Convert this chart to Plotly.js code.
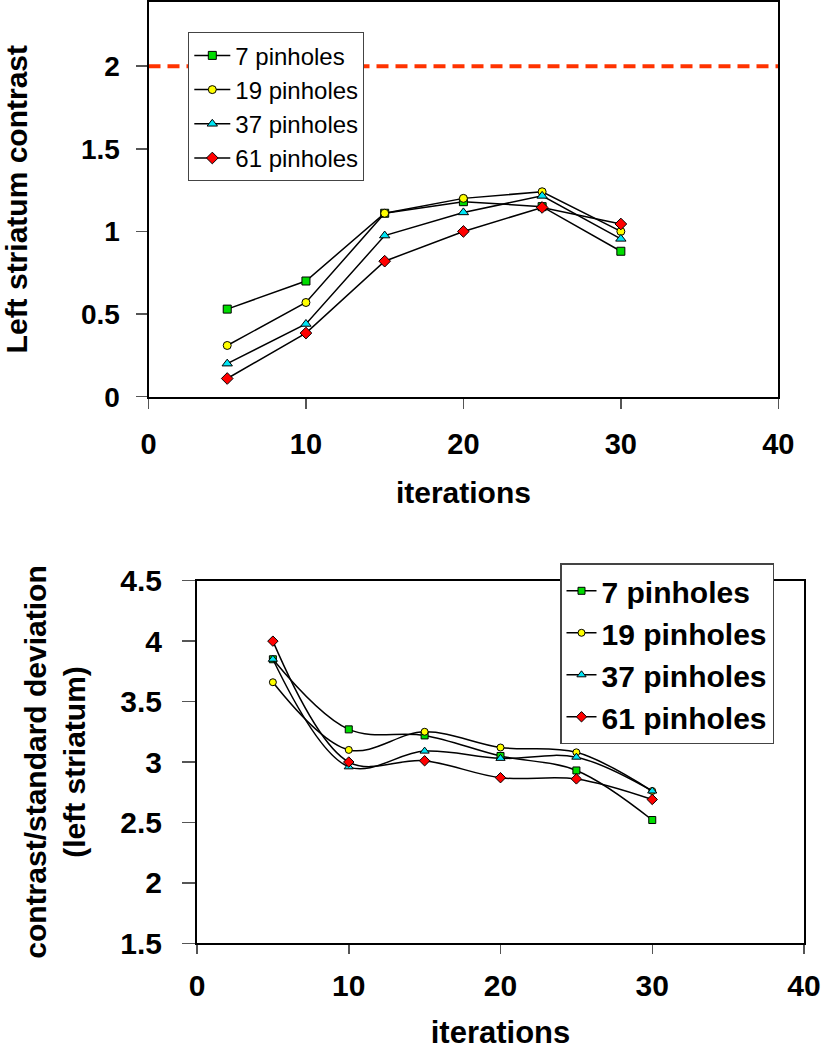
<!DOCTYPE html>
<html>
<head>
<meta charset="utf-8">
<script src="https://cdn.plot.ly/plotly-3.0.1.min.js"></script>
<style>html,body{margin:0;padding:0;background:#fff;}#chart{width:823px;height:1050px;}</style>
</head>
<body>
<div id="chart"></div>
<script>
// ---- data ----
const iterations = [5, 10, 15, 20, 25, 30];
const seriesNames = ['7 pinholes', '19 pinholes', '37 pinholes', '61 pinholes'];

// top panel: left striatum contrast
const contrast7  = [0.53, 0.70, 1.11, 1.18, 1.15, 0.88];
const contrast19 = [0.31, 0.57, 1.11, 1.20, 1.24, 1.00];
const contrast37 = [0.20, 0.44, 0.975, 1.115, 1.215, 0.955];
const contrast61 = [0.11, 0.385, 0.82, 1.00, 1.145, 1.045];

// true contrast (dashed reference line)
const trueContrastX = [0, 40];
const trueContrastY = [2, 2];

// bottom panel: contrast / standard deviation (left striatum)
const ratio7  = [3.85, 3.27, 3.22, 3.05, 2.93, 2.52];
const ratio19 = [3.66, 3.10, 3.25, 3.12, 3.08, 2.76];
const ratio37 = [3.85, 2.96, 3.09, 3.03, 3.04, 2.76];
const ratio61 = [4.00, 3.00, 3.01, 2.87, 2.86, 2.69];

// ---- styling ----
const FONT = 'Liberation Sans, Arial, sans-serif';
const colors = ['#00DD00', '#FFFF00', '#00E5F5', '#FF0000'];
const symbols = ['square', 'circle', 'triangle-up', 'diamond'];
const topSizes = [8, 8, 9, 9];
const botSizes = [7, 7, 8, 8];

const topData = [contrast7, contrast19, contrast37, contrast61];
const botData = [ratio7, ratio19, ratio37, ratio61];

const traces = [];
traces.push({
  x: trueContrastX, y: trueContrastY, xaxis: 'x', yaxis: 'y',
  mode: 'lines', showlegend: false, hoverinfo: 'skip',
  line: {color: '#FF3300', width: 4, dash: '12px,7px'}
});
topData.forEach((d, i) => {
  traces.push({
    x: iterations, y: d, xaxis: 'x', yaxis: 'y', name: seriesNames[i],
    legend: 'legend', legendgroup: 'top' + i,
    mode: 'lines+markers', line: {color: '#000', width: 1.5},
    marker: {symbol: symbols[i], size: topSizes[i], color: colors[i], line: {color: '#000', width: 1}}
  });
});
botData.forEach((d, i) => {
  traces.push({
    x: iterations, y: d, xaxis: 'x2', yaxis: 'y2', name: seriesNames[i],
    legend: 'legend2',
    mode: 'lines+markers', line: {color: '#000', width: 1.5, shape: 'spline', smoothing: 1},
    marker: {symbol: symbols[i], size: botSizes[i], color: colors[i], line: {color: '#000', width: 1}}
  });
});

const W = 823, H = 1050;
const axBase = {
  showline: true, linecolor: '#000', linewidth: 2, mirror: true,
  ticks: 'outside', tickcolor: '#555', tickwidth: 1.5,
  showgrid: false, zeroline: false, automargin: false
};

const layout = {
  width: W, height: H,
  margin: {l: 0, r: 0, t: 0, b: 0},
  paper_bgcolor: '#fff', plot_bgcolor: '#fff',
  font: {family: FONT, color: '#000'},
  xaxis: Object.assign({}, axBase, {
    domain: [148.5 / W, 778.3 / W], anchor: 'y',
    range: [0, 40], dtick: 10, ticklen: 10, ticklabelstandoff: 10,
    tickfont: {family: FONT, size: 29, weight: 'bold'},
    title: {text: 'iterations', font: {family: FONT, size: 30, weight: 'bold'}, standoff: 23}
  }),
  yaxis: Object.assign({}, axBase, {
    domain: [1 - 396.7 / H, 1 - 1.7 / H], anchor: 'x',
    range: [0, 2.39], tickvals: [0, 0.5, 1, 1.5, 2], ticktext: ['0', '0.5', '1', '1.5', '2'],
    ticklen: 11, ticklabelstandoff: 10,
    tickfont: {family: FONT, size: 28, weight: 'bold'},
    title: {text: 'Left striatum contrast', font: {family: FONT, size: 30, weight: 'bold'}, standoff: 48}
  }),
  xaxis2: Object.assign({}, axBase, {
    domain: [197 / W, 804 / W], anchor: 'y2',
    range: [0, 40], dtick: 10, ticklen: 9, ticklabelstandoff: 6,
    tickfont: {family: FONT, size: 30, weight: 'bold'},
    title: {text: 'iterations', font: {family: FONT, size: 31, weight: 'bold'}, standoff: 21}
  }),
  yaxis2: Object.assign({}, axBase, {
    domain: [1 - 943.3 / H, 1 - 580.7 / H], anchor: 'x2',
    range: [1.5, 4.5], dtick: 0.5, ticklen: 13, ticklabelstandoff: 14,
    tickfont: {family: FONT, size: 30, weight: 'bold'},
    title: {text: 'contrast/standard deviation<br>(left striatum)', font: {family: FONT, size: 30, weight: 'bold'}, standoff: 26}
  }),
  legend: {
    x: 188.3 / W, y: 1 - 32.3 / H, xanchor: 'left', yanchor: 'top',
    bgcolor: '#fff', bordercolor: '#444', borderwidth: 1,
    font: {family: FONT, size: 24, color: '#000'}, tracegroupgap: 0, itemwidth: 36
  },
  legend2: {
    x: 560 / W, y: 1 - 563.3 / H, xanchor: 'left', yanchor: 'top',
    bgcolor: '#fff', bordercolor: '#444', borderwidth: 1.5,
    font: {family: FONT, size: 30, weight: 'bold', color: '#000'}
  }
};

Plotly.newPlot('chart', traces, layout, {staticPlot: true, displayModeBar: false});
</script>
</body>
</html>
